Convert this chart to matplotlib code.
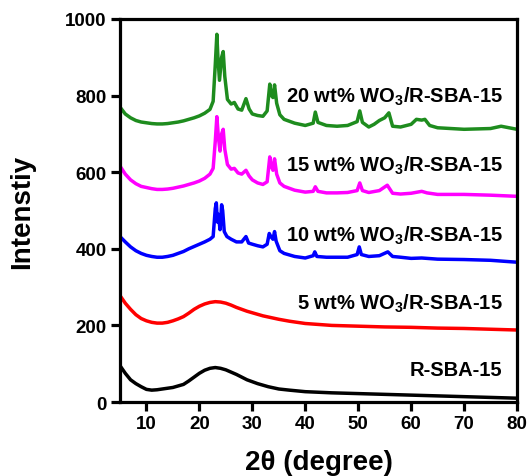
import matplotlib
matplotlib.use("Agg")
import matplotlib.pyplot as plt

plt.rcParams['font.family'] = ['Liberation Sans', 'DejaVu Sans']
plt.rcParams['font.weight'] = 'bold'
plt.rcParams['mathtext.fontset'] = 'custom'
plt.rcParams['mathtext.rm'] = 'Liberation Sans:bold'

# XRD patterns (2theta in degree, intensity in a.u. with stacking offset)
x_base = [5, 6, 7, 8, 9, 10, 11, 12, 13, 14, 15, 16, 17, 18, 19, 20, 21, 22, 23, 24,
          25, 26, 27, 28, 29, 30, 31, 32, 33, 34, 35, 37, 40, 45, 50, 55, 60, 65, 70, 75, 80]

y_sba = [95, 75, 58, 48, 40, 33, 31, 32, 34, 36, 38, 42, 46, 55, 65, 75, 83, 88, 90, 88,
         84, 78, 72, 65, 58, 53, 48, 44, 40, 37, 34, 31, 27, 24, 22, 20, 18, 16, 14, 12, 10]

y_5 = [278, 258, 242, 228, 218, 212, 208, 206, 206, 208, 212, 217, 223, 232, 242, 250, 256, 260, 262, 261,
       258, 253, 247, 242, 237, 233, 229, 225, 222, 219, 216, 211, 205, 200, 198, 196, 195, 193, 192, 190, 188]

x_10 = [5, 6, 7, 8, 9, 10, 11, 12, 13, 14, 15, 16, 17, 18, 19, 20, 21, 22, 22.6, 23.0,
        23.2, 23.4, 23.6, 23.9, 24.2, 24.4, 24.7, 25.2, 26, 27, 28, 28.8, 29.3, 30, 31, 32, 32.8, 33.2, 33.5, 33.9,
        34.2, 34.5, 35.2, 36, 38, 40, 41.5, 41.8, 42.2, 44, 46, 48, 49.8, 50.2, 50.6, 52, 54, 55.6, 56.5, 58,
        60, 62, 65, 70, 75, 80]
y_10 = [432, 418, 405, 395, 388, 383, 380, 378, 378, 380, 383, 388, 393, 400, 406, 412, 418, 425, 432, 505,
        520, 470, 490, 450, 515, 500, 445, 432, 425, 418, 418, 432, 415, 412, 408, 405, 412, 440, 432, 425,
        445, 420, 395, 388, 380, 376, 382, 392, 380, 378, 378, 378, 385, 405, 385, 380, 382, 392, 380, 378,
        375, 376, 373, 372, 370, 365]

x_15 = [5, 6, 7, 8, 9, 10, 11, 12, 13, 14, 15, 16, 17, 18, 19, 20, 21, 22, 22.6, 23.0,
        23.3, 23.6, 23.9, 24.2, 24.5, 24.8, 25.3, 26, 26.6, 27.3, 28, 28.8, 29.4, 30, 31, 32, 32.8, 33.3, 33.6, 33.9,
        34.2, 34.6, 35.2, 36, 38, 40, 41.5, 41.9, 42.4, 44, 46, 48, 49.8, 50.3, 50.8, 52, 54, 55.5, 56.5, 58,
        60, 62, 63, 65, 70, 75, 80]
y_15 = [616, 595, 580, 570, 563, 560, 557, 555, 555, 556, 558, 561, 564, 568, 572, 577, 584, 595, 610, 680,
        745, 690, 655, 700, 712, 660, 620, 608, 610, 598, 595, 605, 590, 580, 572, 568, 575, 640, 615, 605,
        635, 595, 572, 563, 553, 548, 550, 562, 550, 546, 546, 547, 552, 572, 552, 547, 552, 566, 545, 543,
        545, 550, 546, 542, 542, 540, 537]

x_20 = [5, 6, 7, 8, 9, 10, 11, 12, 13, 14, 15, 16, 17, 18, 19, 20, 21, 22, 22.6, 23.0,
        23.3, 23.5, 23.8, 24.2, 24.5, 24.8, 25.3, 26, 26.6, 27.3, 28, 28.8, 29.4, 30, 31, 32, 32.8, 33.3, 33.6, 33.9,
        34.2, 34.6, 35.2, 36, 38, 40, 41.5, 41.9, 42.4, 44, 46, 48, 49.8, 50.3, 50.8, 52, 53, 54, 55.0, 55.8,
        56.5, 58, 60, 61, 62, 62.6, 63.5, 65, 70, 75, 77, 80]
y_20 = [770, 752, 742, 735, 731, 729, 727, 726, 726, 727, 729, 731, 734, 738, 742, 747, 754, 764, 785, 880,
        960, 900, 840, 900, 915, 850, 790, 778, 782, 765, 762, 792, 765, 752, 748, 746, 760, 830, 800, 795,
        828, 780, 750, 738, 728, 722, 728, 757, 730, 722, 720, 722, 732, 760, 730, 718, 725, 735, 742, 755,
        720, 718, 725, 738, 736, 738, 722, 716, 712, 714, 720, 712]

labels = ['R-SBA-15', '5 wt% WO$_3$/R-SBA-15', '10 wt% WO$_3$/R-SBA-15',
          '15 wt% WO$_3$/R-SBA-15', '20 wt% WO$_3$/R-SBA-15']
label_y = [85, 258, 437, 618, 800]
colors = ['black', '#ff0000', '#0000ff', '#ff00ff', '#1e8c1e']

fig = plt.figure(figsize=(5.29, 4.77), dpi=100)
ax = fig.add_axes([0.2268, 0.1551, 0.7505, 0.803])

series = [(x_base, y_sba), (x_base, y_5), (x_10, y_10), (x_15, y_15), (x_20, y_20)]
for (xs, ys), c in zip(series, colors):
    ax.plot(xs, ys, color=c, lw=2.5)

for lab, ly in zip(labels, label_y):
    ax.text(77.3, ly, lab, ha='right', va='center', fontsize=14.5, fontweight='bold')

ax.set_xlim(5, 80)
ax.set_ylim(0, 1000)
ax.set_xticks(range(10, 81, 10))
ax.set_yticks(range(0, 1001, 200))
for sp in ax.spines.values():
    sp.set_linewidth(2.3)
ax.tick_params(direction='out', length=6.5, width=2.3, labelsize=13.5, pad=3)
for t in ax.get_xticklabels() + ax.get_yticklabels():
    t.set_fontweight('bold')

ax.set_xlabel('2\u03b8 (degree)', fontsize=20, fontweight='bold', labelpad=12)
ax.set_ylabel('Intenstiy', fontsize=20, fontweight='bold', labelpad=22)

fig.savefig('out.png', dpi=100)
